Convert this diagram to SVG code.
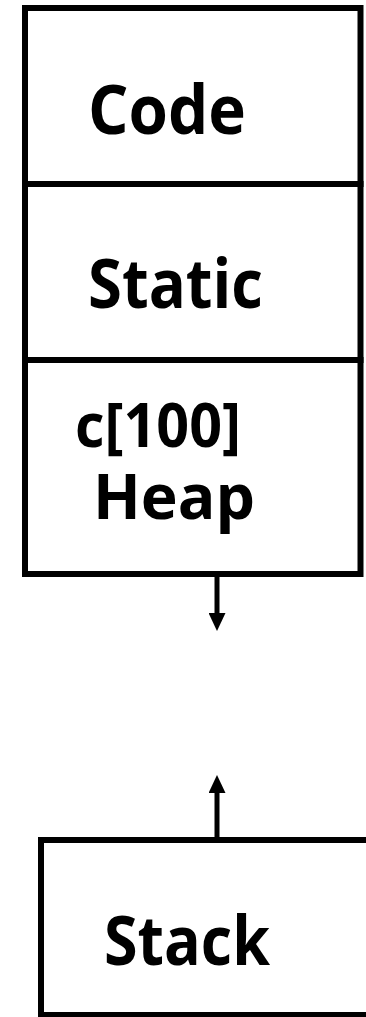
<svg xmlns="http://www.w3.org/2000/svg" width="366" height="1017" viewBox="0 0 366 1017">
<style>
.box{fill:#fff;stroke:#000;stroke-width:6}
.lbl{font-family:"Open Sans","Noto Sans","Liberation Sans",sans-serif;font-weight:bold;fill:#000}
.big{font-size:68px}
.mid{font-size:62px}
.small{font-size:60px}
.conn{stroke:#000;stroke-width:5;fill:none}
</style>
<defs>
<marker id="ah" viewBox="0 0 18 17" refX="0" refY="8.5" markerWidth="18" markerHeight="17" markerUnits="userSpaceOnUse" orient="auto">
<path d="M0,0 L18,8.5 L0,17 Z" fill="#000"/>
</marker>
</defs>
<rect width="366" height="1017" fill="#fff"/>
<g id="code">
<rect class="box" x="25" y="8" width="335.5" height="176"/>
<text class="lbl big" x="88" y="133.5" textLength="158" lengthAdjust="spacingAndGlyphs">Code</text>
</g>
<g id="static">
<rect class="box" x="25" y="184" width="335.5" height="176"/>
<text class="lbl big" x="88" y="308" textLength="175" lengthAdjust="spacingAndGlyphs">Static</text>
</g>
<g id="heap">
<rect class="box" x="25" y="360" width="335.5" height="214"/>
<text class="lbl small" x="75" y="447" textLength="166" lengthAdjust="spacingAndGlyphs">c[100]</text>
<text class="lbl mid" x="93" y="518.5" textLength="162" lengthAdjust="spacingAndGlyphs">Heap</text>
</g>
<g id="stack">
<rect class="box" x="41" y="840" width="335" height="175"/>
<text class="lbl big" x="104" y="965" textLength="166" lengthAdjust="spacingAndGlyphs">Stack</text>
</g>
<g id="connectors">
<line class="conn" x1="217" y1="577" x2="217" y2="613" marker-end="url(#ah)"/>
<line class="conn" x1="217" y1="837" x2="217" y2="793" marker-end="url(#ah)"/>
</g>
</svg>
